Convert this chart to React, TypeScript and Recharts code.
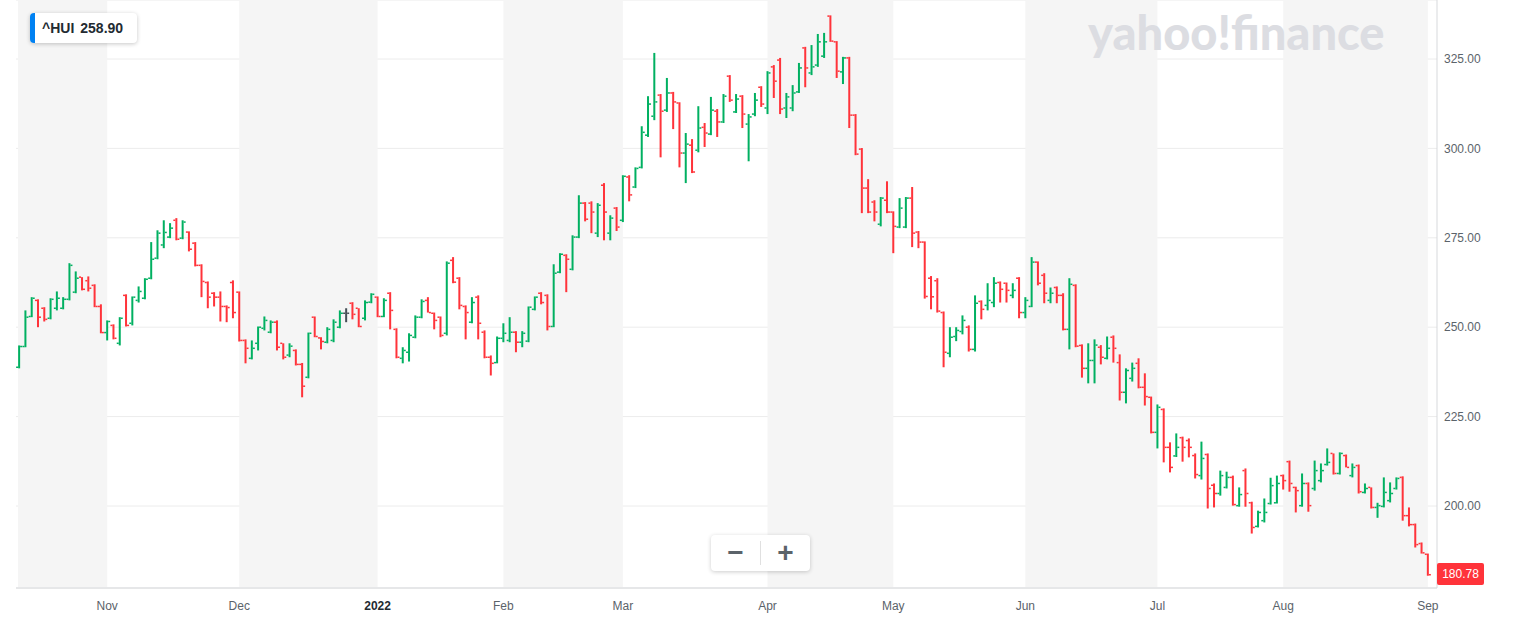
import React from 'react';
import { ComposedChart, Bar, XAxis, YAxis, CartesianGrid, ReferenceArea } from 'recharts';

// ^HUI daily OHLC, Oct 12 2021 .. Sep 1 2022
const opens = [
  238.8, 244.6, 253.0, 257.5, 255.3, 252.5, 255.3, 255.3, 257.8, 259.8,
  264.0, 263.0, 261.7, 255.8, 248.5, 250.5, 245.5, 258.9, 251.1, 257.5,
  258.1, 263.7, 269.3, 273.0, 275.2, 279.9, 274.9, 276.6, 273.5, 267.3,
  262.5, 259.5, 258.4, 255.8, 262.5, 259.8, 246.3, 241.3, 245.5, 249.7,
  248.6, 251.4, 245.5, 242.2, 243.5, 239.6, 236.0, 252.8, 247.0, 245.8,
  246.3, 250.0, 253.9, 256.7, 255.3, 252.5, 257.0, 258.4, 253.0, 259.5,
  249.4, 241.3, 243.0, 247.2, 252.8, 257.5, 253.9, 252.8, 248.3, 268.7,
  263.7, 255.8, 251.4, 258.4, 248.6, 241.6, 240.1, 246.9, 246.3, 248.6,
  245.8, 246.1, 255.0, 259.5, 258.9, 250.2, 265.4, 270.1, 266.2, 275.2,
  284.7, 284.7, 276.3, 289.7, 276.3, 283.3, 279.9, 292.0, 289.2, 294.7,
  303.7, 309.0, 314.9, 310.7, 315.5, 312.7, 298.7, 300.9, 299.5, 305.9,
  304.0, 310.4, 307.4, 320.2, 310.2, 314.6, 306.8, 309.6, 317.1, 311.3,
  322.8, 324.7, 311.3, 311.3, 315.8, 328.1, 321.1, 323.3, 325.8, 337.0,
  329.8, 321.4, 325.3, 309.3, 299.8, 288.9, 285.0, 278.8, 285.5, 282.2,
  278.0, 278.0, 286.1, 276.6, 273.8, 263.7, 263.0, 254.1, 242.7, 247.4,
  248.8, 250.0, 243.8, 257.2, 256.1, 256.9, 262.5, 262.3, 258.9, 263.7,
  254.1, 255.8, 268.2, 264.5, 257.5, 261.1, 258.9, 249.4, 261.7, 244.9,
  238.5, 240.7, 244.4, 241.3, 247.2, 240.1, 231.8, 235.7, 239.9, 233.2,
  230.4, 220.6, 227.0, 216.4, 214.0, 219.1, 218.3, 214.1, 208.5, 214.4,
  205.8, 203.5, 205.2, 208.0, 200.1, 209.9, 200.9, 194.3, 195.9, 200.7,
  200.9, 208.5, 212.4, 205.2, 200.1, 206.3, 204.9, 207.1, 211.6, 214.7,
  209.1, 214.1, 208.5, 211.3, 203.8, 205.2, 199.6, 199.9, 201.5, 204.9,
  208.0, 197.3, 194.8, 189.5, 186.5,
];
const highs = [
  244.9, 254.7, 258.4, 257.8, 255.6, 258.1, 260.0, 258.4, 267.9, 265.6,
  264.0, 264.2, 262.0, 256.4, 251.9, 250.8, 252.8, 259.2, 258.6, 261.4,
  263.7, 273.8, 277.1, 279.9, 279.1, 280.5, 279.9, 276.8, 273.8, 267.6,
  262.8, 259.8, 260.0, 256.1, 263.1, 260.0, 246.6, 246.3, 250.2, 253.0,
  251.9, 251.9, 245.5, 245.5, 243.8, 240.0, 248.5, 253.0, 247.2, 250.0,
  252.2, 254.7, 255.3, 257.0, 255.3, 257.5, 259.5, 258.6, 258.1, 259.8,
  249.7, 244.4, 248.3, 253.3, 257.8, 258.4, 254.1, 253.0, 268.4, 269.6,
  264.0, 256.1, 258.4, 258.9, 249.1, 242.1, 247.4, 251.1, 252.8, 248.9,
  248.9, 255.8, 258.6, 259.8, 259.2, 267.6, 270.7, 270.4, 275.7, 286.9,
  285.0, 285.2, 284.7, 290.3, 281.3, 283.6, 292.5, 292.5, 294.7, 306.2,
  314.6, 326.7, 315.2, 319.7, 315.8, 312.9, 304.3, 302.6, 311.8, 307.1,
  314.4, 311.0, 315.2, 320.5, 315.2, 314.9, 309.6, 315.5, 317.4, 321.6,
  323.3, 325.3, 315.5, 317.7, 323.9, 328.4, 328.9, 332.0, 332.3, 337.2,
  330.0, 325.6, 325.6, 309.6, 300.1, 291.4, 285.5, 286.4, 290.8, 282.4,
  286.1, 286.4, 289.2, 276.9, 274.0, 264.3, 263.7, 254.4, 250.0, 250.0,
  253.3, 250.5, 258.9, 257.5, 262.3, 264.0, 262.8, 262.5, 262.3, 264.0,
  258.4, 269.6, 268.4, 265.1, 261.1, 261.4, 259.5, 263.7, 262.0, 245.2,
  245.5, 246.6, 245.0, 247.4, 247.7, 242.4, 238.5, 240.1, 241.3, 237.1,
  230.6, 228.4, 227.3, 217.8, 220.3, 219.4, 218.9, 214.7, 218.0, 214.7,
  206.3, 209.9, 209.6, 208.5, 205.2, 210.5, 201.2, 198.7, 202.1, 207.9,
  208.5, 208.8, 212.7, 205.4, 209.1, 206.6, 212.7, 211.9, 216.1, 214.7,
  215.0, 214.4, 211.9, 211.6, 206.3, 205.2, 200.9, 208.0, 206.6, 208.0,
  208.3, 199.6, 195.1, 189.8, 186.7,
];
const lows = [
  238.5, 244.4, 252.8, 250.0, 251.6, 252.2, 254.7, 255.0, 257.5, 259.5,
  260.3, 260.0, 255.6, 248.3, 246.3, 246.6, 244.9, 250.2, 250.5, 256.9,
  257.8, 263.4, 269.0, 272.1, 274.9, 274.3, 274.6, 271.2, 267.0, 258.4,
  255.3, 255.8, 251.6, 251.4, 252.5, 246.0, 239.9, 241.0, 243.5, 249.1,
  248.3, 243.5, 241.0, 241.6, 239.3, 230.4, 235.7, 247.2, 243.8, 245.5,
  245.8, 249.7, 251.4, 252.2, 250.0, 251.9, 256.7, 252.8, 252.8, 249.4,
  241.3, 239.9, 240.4, 246.9, 252.5, 254.1, 249.4, 247.2, 247.7, 262.3,
  255.0, 246.6, 251.1, 246.6, 241.3, 236.5, 239.9, 245.8, 245.8, 243.0,
  244.4, 245.8, 254.7, 256.4, 249.1, 250.0, 265.1, 259.8, 265.9, 274.9,
  279.6, 276.3, 275.2, 274.3, 274.3, 276.9, 279.4, 285.2, 288.9, 294.4,
  303.2, 307.9, 297.5, 310.2, 305.4, 294.7, 290.3, 293.1, 298.9, 300.4,
  303.7, 303.2, 307.1, 313.0, 309.9, 305.7, 296.4, 309.0, 311.6, 309.6,
  314.1, 309.6, 308.5, 310.4, 315.5, 317.1, 320.5, 322.8, 325.3, 329.8,
  319.7, 318.0, 305.7, 298.1, 281.9, 281.9, 279.6, 278.2, 281.9, 270.7,
  277.7, 277.7, 272.4, 272.1, 258.0, 255.0, 254.1, 238.8, 241.6, 246.1,
  248.0, 243.2, 243.2, 252.2, 254.7, 255.6, 256.9, 256.9, 258.1, 252.5,
  252.5, 255.6, 261.7, 256.7, 256.7, 256.7, 249.1, 243.8, 244.4, 235.9,
  234.3, 234.3, 239.6, 241.0, 240.1, 229.5, 228.7, 234.8, 232.9, 228.1,
  220.3, 216.1, 212.2, 209.4, 213.7, 212.4, 213.6, 207.7, 207.4, 199.3,
  199.6, 202.9, 204.9, 200.1, 199.8, 199.8, 192.3, 194.0, 195.4, 200.4,
  200.7, 204.6, 204.0, 198.2, 199.8, 198.4, 204.3, 206.6, 211.3, 208.8,
  208.8, 210.8, 208.0, 203.5, 203.5, 199.3, 196.7, 199.6, 201.0, 204.6,
  195.9, 194.3, 188.4, 186.7, 180.5,
];
const closes = [
  244.6, 252.8, 258.1, 252.8, 252.2, 257.8, 258.1, 257.8, 267.3, 263.7,
  260.6, 260.9, 255.8, 248.5, 251.6, 246.9, 252.5, 250.5, 258.4, 260.0,
  263.4, 269.0, 276.3, 276.5, 277.7, 274.6, 279.4, 271.8, 267.3, 262.8,
  258.4, 258.4, 255.8, 255.5, 254.1, 246.3, 244.1, 244.1, 250.0, 251.9,
  251.4, 244.4, 241.6, 244.7, 239.6, 233.5, 248.3, 247.4, 246.0, 249.4,
  251.4, 253.9, 253.9, 253.6, 250.2, 256.9, 259.2, 253.0, 257.5, 254.7,
  241.6, 243.5, 247.7, 252.8, 257.2, 254.1, 251.9, 247.7, 267.9, 262.6,
  256.1, 254.1, 256.9, 251.1, 241.6, 239.9, 246.9, 248.3, 248.6, 245.8,
  248.3, 255.6, 258.4, 256.9, 250.2, 265.1, 270.4, 269.0, 275.2, 284.7,
  280.2, 282.2, 284.1, 282.2, 280.5, 278.0, 292.2, 287.0, 294.4, 304.5,
  312.4, 313.0, 310.4, 315.5, 313.0, 298.7, 301.2, 293.4, 305.7, 304.3,
  310.7, 307.4, 314.6, 313.5, 313.8, 309.6, 308.8, 313.5, 312.4, 321.1,
  318.8, 311.0, 314.4, 315.5, 322.5, 322.5, 322.8, 329.8, 329.8, 330.0,
  321.6, 325.3, 309.3, 298.4, 288.9, 282.2, 282.2, 286.1, 282.2, 278.2,
  283.3, 286.1, 276.3, 273.8, 258.6, 258.5, 254.5, 243.0, 247.2, 249.1,
  251.9, 243.8, 256.7, 255.0, 257.5, 262.3, 260.6, 260.3, 260.3, 254.1,
  257.5, 268.2, 262.3, 259.5, 259.5, 258.9, 249.4, 262.0, 244.7, 238.5,
  240.7, 245.0, 241.6, 244.1, 244.1, 231.8, 237.9, 238.5, 233.2, 230.6,
  220.6, 227.6, 216.4, 210.8, 216.4, 216.4, 216.4, 208.8, 213.3, 204.9,
  203.5, 208.5, 208.0, 200.4, 203.2, 203.5, 194.0, 198.2, 198.2, 205.7,
  206.3, 207.1, 206.3, 204.3, 206.3, 200.1, 209.9, 209.9, 212.2, 209.1,
  214.7, 210.8, 210.8, 204.0, 204.9, 199.6, 200.1, 203.8, 203.5, 207.7,
  197.3, 194.8, 189.2, 186.9, 180.78,
];

// first trading day of each month (bar index) and its axis label
const monthStarts = [14, 35, 57, 77, 96, 119, 139, 160, 181, 201, 224];
const monthLabels = ['Nov', 'Dec', '2022', 'Feb', 'Mar', 'Apr', 'May', 'Jun', 'Jul', 'Aug', 'Sep'];
// shaded months: [first bar, last bar]
const shadedMonths = [[0, 13], [35, 56], [77, 95], [119, 138], [160, 180], [201, 223]];
const priceTicks = [200, 225, 250, 275, 300, 325];

const GREEN = '#00b061';
const RED = '#ff333a';
const GRAY = '#464e56';
const FONT = '"Liberation Sans", Arial, sans-serif';

const data = opens.map((o, i) => ({
  i,
  open: o,
  high: highs[i],
  low: lows[i],
  close: closes[i],
  range: [lows[i], highs[i]],
}));

const OhlcBar = (props: any) => {
  const { x, y, width, height, payload } = props;
  if (!payload) return null;
  const { open, high, low, close } = payload;
  const top = Math.min(y, y + height);
  const h = Math.max(Math.abs(height), 1);
  const cx = x + width / 2;
  const span = high - low || 1;
  const oy = top + ((high - open) / span) * h;
  const cy = top + ((high - close) / span) * h;
  const color = close > open ? GREEN : close < open ? RED : GRAY;
  return (
    <g>
      <rect x={cx - 1} y={top} width={2} height={h} fill={color} />
      <rect x={cx - 3} y={oy - 0.75} width={2} height={1.5} fill={color} />
      <rect x={cx + 1} y={cy - 0.75} width={2} height={1.5} fill={color} />
    </g>
  );
};

const MonthShade = (props: any) => {
  const { x, y, width, height, first, last } = props;
  const bw = width / (last - first + 1);
  const x0 = first === 0 ? x + 2 : x + bw / 2;
  const x1 = x + width + bw / 2;
  return <rect x={x0} y={y} width={x1 - x0} height={height} fill="#f5f5f5" />;
};

const MonthTick = (props: any) => {
  const { x, y, payload } = props;
  const k = monthStarts.indexOf(payload.value);
  const label = k >= 0 ? monthLabels[k] : '';
  return (
    <text x={x} y={y + 14} textAnchor="middle" fontSize={12} fontFamily={FONT}
      fill={label === '2022' ? '#232a31' : '#5b636a'} fontWeight={label === '2022' ? 700 : 400}>
      {label}
    </text>
  );
};

export default function App() {
  return (
    <div style={{ position: 'absolute', left: 0, top: 0, width: 1523, height: 627, background: '#fff', fontFamily: FONT }}>
      <ComposedChart width={1523} height={627} data={data} margin={{ top: 0, right: 0, bottom: 9, left: 16 }}>
        {shadedMonths.map(([a, b]) => (
          <ReferenceArea key={a} x1={a} x2={b} ifOverflow="visible"
            shape={(p: any) => <MonthShade {...p} first={a} last={b} />} />
        ))}
        <CartesianGrid vertical={false} stroke="#ececec" />
        <XAxis dataKey="i" type="category" ticks={monthStarts} interval={0} padding={{ left: 0, right: 6 }}
          height={30} tick={<MonthTick />} tickLine={false} axisLine={{ stroke: '#d7d9dc' }} />
        <YAxis orientation="right" width={86} domain={[177.07, 341.5]} allowDataOverflow ticks={priceTicks}
          tickFormatter={(v: number) => v.toFixed(2)} tickLine={false} tickMargin={1}
          axisLine={{ stroke: '#d7d9dc' }} tick={{ fontSize: 12, fill: '#5b636a', fontFamily: FONT }} />
        <Bar dataKey="range" isAnimationActive={false} shape={<OhlcBar />} />
      </ComposedChart>

      <div style={{ position: 'absolute', left: 30, top: 13, width: 107, height: 30, background: '#fff',
        borderRadius: 4, boxShadow: '0 1px 4px rgba(0,0,0,0.22)', overflow: 'hidden',
        display: 'flex', alignItems: 'center', fontSize: 14, fontWeight: 700, color: '#232a31' }}>
        <div style={{ width: 5, height: '100%', background: '#0081f2' }} />
        <span style={{ marginLeft: 7 }}>^HUI</span>
        <span style={{ marginLeft: 6, fontWeight: 700 }}>258.90</span>
      </div>

      <div style={{ position: 'absolute', left: 1088, top: 4, fontSize: 47, fontWeight: 900,
        fontFamily: 'Lato, "Liberation Sans", sans-serif', color: '#dcdde2', letterSpacing: 0 }}>
        yahoo!finance
      </div>

      <div style={{ position: 'absolute', left: 711, top: 535, width: 99, height: 36, background: '#fff',
        borderRadius: 4, boxShadow: '0 1px 4px rgba(0,0,0,0.2)', display: 'flex', alignItems: 'center' }}>
        <div style={{ width: 49, textAlign: 'center', fontSize: 28, fontWeight: 700, color: '#5b636a', lineHeight: '36px' }}>−</div>
        <div style={{ width: 1, height: 24, background: '#e0e0e0' }} />
        <div style={{ width: 49, textAlign: 'center', fontSize: 28, fontWeight: 700, color: '#5b636a', lineHeight: '36px' }}>+</div>
      </div>

      <div style={{ position: 'absolute', left: 1437, top: 563, width: 47, height: 22, background: RED,
        borderRadius: 2, color: '#fff', fontSize: 12, lineHeight: '22px', textAlign: 'center' }}>
        180.78
      </div>
    </div>
  );
}
